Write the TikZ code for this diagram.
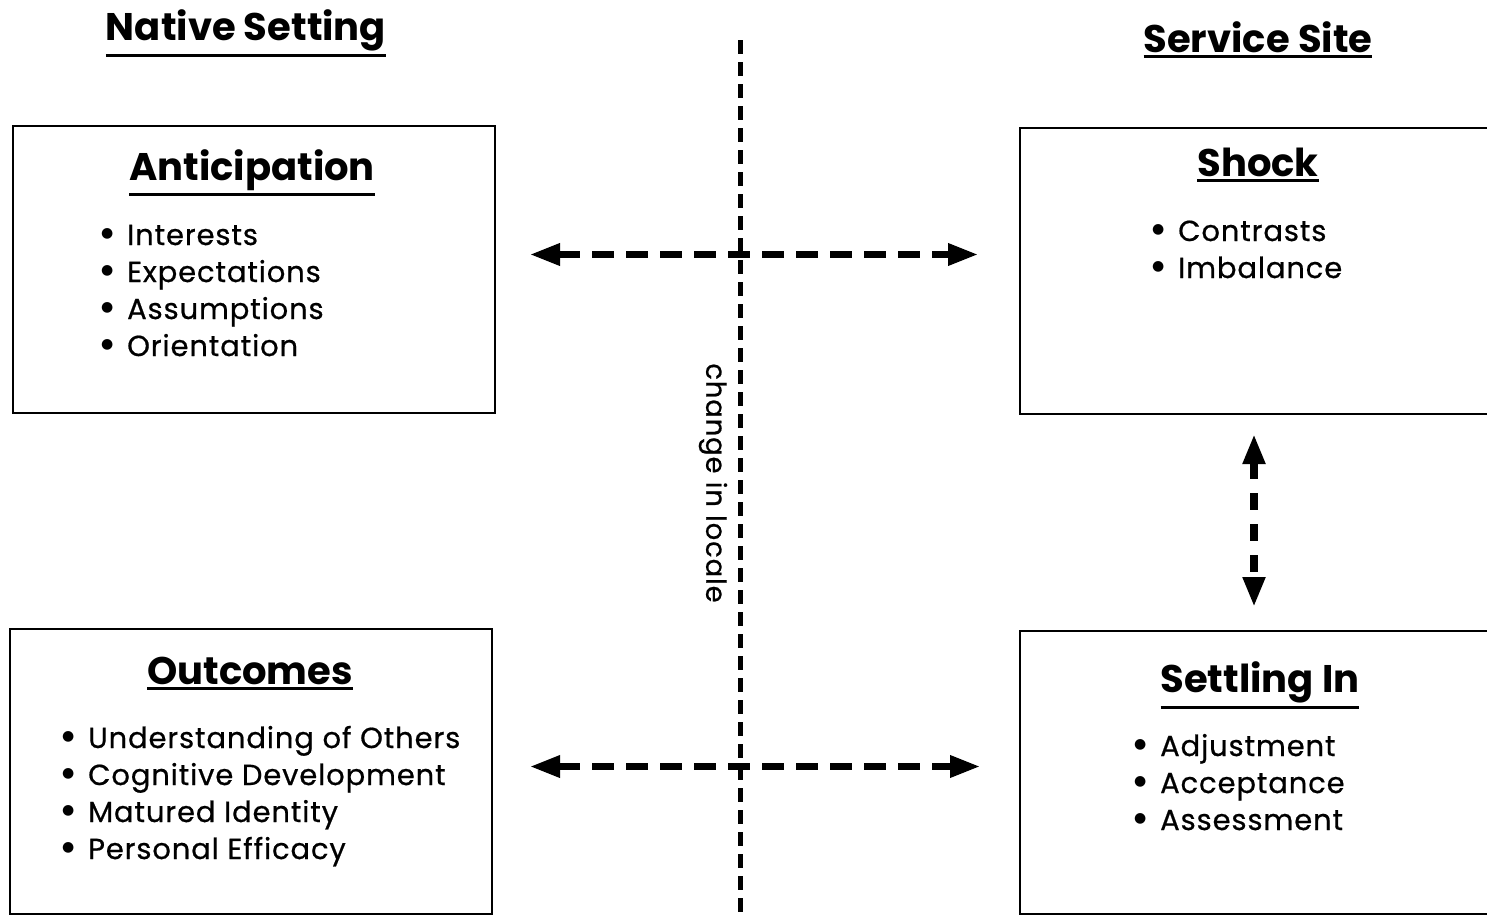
\documentclass[tikz,border=0pt]{standalone}
\usepackage{fontspec}
\setmainfont{Poppins}
\newfontfamily\listfont{Poppins}[FakeBold=0.6, LetterSpace=3]
\newfontfamily\dotfont{DejaVu Sans}
\usetikzlibrary{arrows.meta}

% underlined heading: text with a rule set below its baseline
\newcommand\ulhead[1]{\vtop{\hbox{#1}\kern3pt\hrule height 3pt}}
% bullet list: one line per row, baselines 37pt apart, first row is the baseline
\newcommand\bdot{{\fontsize{14}{14}\dotfont\raisebox{8pt}{●}}}
\newcommand\bitem[1]{\hbox to 20pt{\hss\bdot\hss}\hskip10pt #1}
\newcommand\blist[1]{\vtop{\baselineskip=37pt\lineskiplimit=-100pt\halign{##\hfil\cr#1\crcr}}}

\tikzset{
  panel/.style={draw, line width=2pt, inner sep=0pt, anchor=north west},
  sectitle/.style={anchor=base, inner sep=0pt, font=\fontsize{38.5}{44}\selectfont\bfseries},
  boxtitle/.style={anchor=base, inner sep=0pt, font=\fontsize{38.5}{44}\selectfont\bfseries},
  items/.style={anchor=base west, inner sep=0pt, font=\fontsize{29}{37}\listfont},
  tip/.tip={Triangle[length=30pt,width=21pt]},
  harrow/.style={line width=6.5pt, dash pattern=on 22pt off 12pt, tip-tip},
  varrow/.style={line width=8pt, dash pattern=on 17pt off 14pt, tip-tip},
  localeline/.style={line width=5pt, dash pattern=on 14pt off 8pt},
}

\begin{document}
\begin{tikzpicture}[x=1pt,y=-1pt]
\useasboundingbox (0,0) rectangle (1487,916);
\clip (0,0) rectangle (1487,916);

% column headings
\node[sectitle] (native) at (246,40) {\ulhead{Native Setting}};
\node[sectitle] (service) at (1258,52) {\ulhead{Service Site}};

% the four stage boxes
\node[panel, minimum width=482pt, minimum height=287pt] (ant) at (12,125) {};
\node[panel, minimum width=480pt, minimum height=286pt] (shock) at (1019,127) {};
\node[panel, minimum width=482pt, minimum height=285pt] (out) at (9,628) {};
\node[panel, minimum width=480pt, minimum height=283pt] (settle) at (1019,630) {};

% box headings
\node[boxtitle] (antT) at (252,180) {\ulhead{Anticipation}};
\node[boxtitle] (shockT) at (1258,176) {\ulhead{Shock}};
\node[boxtitle] (outT) at (250,684) {\ulhead{Outcomes}};
\node[boxtitle] (settleT) at (1260,692) {\ulhead{Settling In}};

% box contents
\node[items] (antL) at (97,245) {\blist{\bitem{Interests}\cr\bitem{Expectations}\cr\bitem{Assumptions}\cr\bitem{Orientation}}};
\node[items] (shockL) at (1148,241) {\blist{\bitem{Contrasts}\cr\bitem{Imbalance}}};
\node[items] (outL) at (58,748) {\blist{\bitem{Understanding of Others}\cr\bitem{Cognitive Development}\cr\bitem{Matured Identity}\cr\bitem{Personal Efficacy}}};
\node[items] (settleL) at (1130,756) {\blist{\bitem{Adjustment}\cr\bitem{Acceptance}\cr\bitem{Assessment}}};

% boundary between the two settings
\coordinate (ltop) at (740,40);
\coordinate (lbot) at (740,916);
\draw[localeline] (ltop) -- (lbot);
\node[rotate=-90, inner sep=0pt, font=\fontsize{27.5}{30}\listfont] (locale) at (713,483) {change in locale};

% transitions
\draw[harrow, shorten <=34pt, shorten >=41pt] ([yshift=15pt]ant.east) -- ([yshift=15pt]ant.east -| shock.west);
\draw[harrow, shorten <=37pt, shorten >=39pt] ([yshift=5pt]out.east) -- ([yshift=5pt]out.east -| settle.west);
\draw[varrow, shorten <=19pt, shorten >=23pt] ([xshift=-6pt]shock.south) -- ([xshift=-6pt]shock.south |- settle.north);
\end{tikzpicture}
\end{document}
